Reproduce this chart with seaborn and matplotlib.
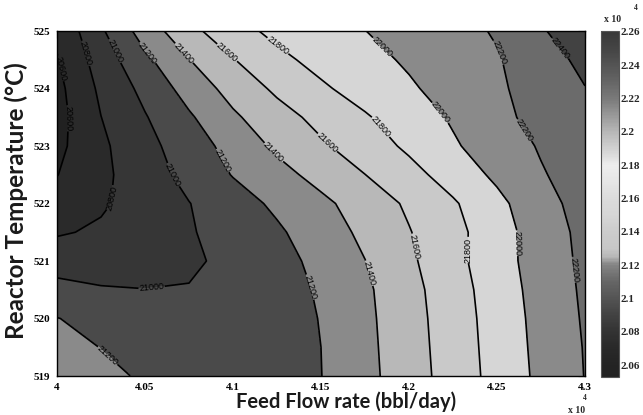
import numpy as np
import seaborn as sns
import matplotlib
matplotlib.use("Agg")
import matplotlib.pyplot as plt
from matplotlib.colors import LinearSegmentedColormap, Normalize
from matplotlib.cm import ScalarMappable
from matplotlib.ticker import FuncFormatter

# ---------------- data ----------------
# Feed flow rate in units of 10^4 bbl/day
feed_flow = [4.0, 4.025, 4.05, 4.075, 4.1, 4.125, 4.15, 4.175, 4.2, 4.225, 4.25, 4.275, 4.3]
# Reactor temperature (deg C)
temperature = [519, 519.5, 520, 520.5, 521, 521.5, 522, 522.5, 523, 523.5, 524, 524.5, 525]

# response values, one row per temperature (bottom to top), one column per feed flow
z_519_0 = [21370, 21260, 21170, 21110, 21105, 21140, 21197, 21343, 21508, 21686, 21867, 22045, 22205]
z_519_5 = [21290, 21195, 21130, 21090, 21100, 21140, 21200, 21349, 21516, 21694, 21875, 22054, 22210]
z_520_0 = [21205, 21140, 21090, 21080, 21100, 21140, 21205, 21356, 21524, 21702, 21883, 22063, 22220]
z_520_5 = [21060, 21015, 21003, 21012, 21068, 21138, 21217, 21366, 21536, 21714, 21896, 22076, 22230]
z_521_0 = [20915, 20910, 20920, 20960, 21061, 21143, 21245, 21397, 21565, 21740, 21916, 22092, 22240]
z_521_5 = [20780, 20828, 20906, 20984, 21076, 21172, 21300, 21443, 21590, 21741, 21912, 22102, 22250]
z_522_0 = [20683, 20775, 20884, 20995, 21117, 21236, 21356, 21489, 21630, 21777, 21948, 22135, 22270]
z_522_5 = [20595, 20756, 20908, 21059, 21209, 21334, 21465, 21598, 21735, 21884, 22039, 22184, 22290]
z_523_0 = [20550, 20763, 20940, 21102, 21269, 21437, 21572, 21703, 21835, 21977, 22099, 22217, 22320]
z_523_5 = [20530, 20798, 20987, 21174, 21369, 21523, 21658, 21781, 21901, 22022, 22144, 22269, 22355]
z_524_0 = [20545, 20838, 21054, 21279, 21472, 21637, 21772, 21878, 21976, 22073, 22171, 22281, 22395]
z_524_5 = [20590, 20891, 21156, 21395, 21591, 21753, 21859, 21943, 22025, 22105, 22185, 22311, 22450]
z_525_0 = [20630, 20971, 21291, 21541, 21732, 21847, 21923, 21998, 22069, 22139, 22217, 22369, 22600]

contour_levels = [20600, 20800, 21000, 21200, 21400, 21600, 21800, 22000, 22200, 22400]
x_ticks = [4.0, 4.05, 4.1, 4.15, 4.2, 4.25, 4.3]
y_ticks = [519, 520, 521, 522, 523, 524, 525]
cbar_ticks = [2.06, 2.08, 2.10, 2.12, 2.14, 2.16, 2.18, 2.20, 2.22, 2.24, 2.26]
cbar_min, cbar_max = 2.0528, 2.2606   # colour limits (x 10^4)

# ---------------- styling ----------------
sns.set_theme(style="white")
plt.rcParams["font.family"] = ["Liberation Serif", "DejaVu Serif"]

# grey levels of the filled bands (grayscale rendering of a jet map)
band_greys = [0.13, 0.165, 0.21, 0.29, 0.54, 0.72, 0.79, 0.84, 0.54, 0.42, 0.26]
band_colors = [(g, g, g) for g in band_greys]
# continuous colourbar gradient
cbar_anchor_vals = [2.0528, 2.06, 2.07, 2.08, 2.09, 2.10, 2.11, 2.12, 2.125, 2.13, 2.14, 2.15,
                    2.16, 2.17, 2.18, 2.19, 2.20, 2.21, 2.22, 2.23, 2.24, 2.25, 2.2606]
cbar_anchor_grey = [0.13, 0.14, 0.16, 0.20, 0.26, 0.33, 0.40, 0.52, 0.72, 0.78, 0.80, 0.84,
                    0.86, 0.90, 0.93, 0.82, 0.72, 0.60, 0.48, 0.40, 0.33, 0.27, 0.22]
cmap = LinearSegmentedColormap.from_list(
    "jetgrey",
    [((v - cbar_min) / (cbar_max - cbar_min), (g, g, g)) for v, g in zip(cbar_anchor_vals, cbar_anchor_grey)],
)

W, H = 643, 415
fig = plt.figure(figsize=(W / 100, H / 100), dpi=100)
fig.patch.set_facecolor("white")
ax = fig.add_axes([57 / W, 1 - 376 / H, (585 - 57) / W, (376 - 31) / H])
cax = fig.add_axes([601 / W, 1 - 377 / H, 18 / W, 346 / H])

Z = np.array([z_519_0, z_519_5, z_520_0, z_520_5, z_521_0, z_521_5, z_522_0,
              z_522_5, z_523_0, z_523_5, z_524_0, z_524_5, z_525_0], dtype=float)
XX, YY = np.meshgrid(feed_flow, temperature)

fill_levels = [20500] + contour_levels + [22700]
ax.contourf(XX, YY, Z, levels=fill_levels, colors=band_colors)
cl = ax.contour(XX, YY, Z, levels=contour_levels, colors="black", linewidths=1.2)

# label positions (pixel positions, converted to data)
label_px = [(62, 118), (62, 68),
            (87, 53), (110, 198),
            (115, 51), (168, 178), (152, 291),
            (145, 55), (218, 163), (316, 285), (110, 353),
            (182, 55), (273, 153), (370, 273),
            (225, 55), (327, 143), (422, 245),
            (277, 47), (383, 125), (469, 250),
            (387, 42), (440, 113), (517, 243),
            (505, 50), (520, 133), (572, 270),
            (558, 50)]
label_pos = [(4 + (px - 57) / 1760, 525 - (py - 31) / 57.5) for px, py in label_px]
ax.clabel(cl, fmt="%d", fontsize=6.5, inline=True, inline_spacing=2,
          manual=label_pos)
for t in cl.labelTexts:
    t.set_family(["Liberation Sans", "DejaVu Sans"])

ax.set_xlim(4.0, 4.3)
ax.set_ylim(519, 525)
ax.set_xticks(x_ticks)
ax.set_yticks(y_ticks)
ax.xaxis.set_major_formatter(FuncFormatter(lambda v, p: "%g" % round(v, 3)))
ax.yaxis.set_major_formatter(FuncFormatter(lambda v, p: "%g" % v))
ax.tick_params(direction="in", length=5, width=0.8, top=True, right=True,
               labelsize=8, pad=5, colors="black")
for lab in ax.get_xticklabels() + ax.get_yticklabels():
    lab.set_fontweight("bold")
for s in ax.spines.values():
    s.set_color("black")
    s.set_linewidth(1.0)

# colourbar
sm = ScalarMappable(norm=Normalize(cbar_min, cbar_max), cmap=cmap)
cb = fig.colorbar(sm, cax=cax)
cb.set_ticks(cbar_ticks)
cb.ax.yaxis.set_major_formatter(FuncFormatter(lambda v, p: "%g" % round(v, 3)))
cax.tick_params(direction="in", length=3, width=0.6, left=True, right=True,
                labelsize=8, pad=1)
for lab in cax.get_yticklabels():
    lab.set_fontweight("bold")
cb.outline.set_linewidth(0.8)
cb.outline.set_edgecolor("#555555")

# x 10^4 multipliers
fig.text(577 / W, 1 - 410 / H, "x 10", fontsize=7, fontweight="bold", ha="center", va="center")
fig.text(585 / W, 1 - 398 / H, "4", fontsize=5.5, fontweight="bold", ha="center", va="center")
fig.text(613 / W, 1 - 20 / H, "x 10", fontsize=7, fontweight="bold", ha="center", va="center")
fig.text(636 / W, 1 - 8 / H, "4", fontsize=5.5, fontweight="bold", ha="center", va="center")

# axis titles
fig.text(346 / W, 1 - 402 / H, "Feed Flow rate (bbl/day)", fontsize=14.5, fontweight="bold",
         family=["Lato", "DejaVu Sans"], color="#1a1a1a", ha="center", va="center")
fig.text(16 / W, 1 - 201 / H, "Reactor Temperature (\u00b0C)", fontsize=17.5, fontweight="bold",
         family=["Lato", "DejaVu Sans"], color="#1a1a1a", ha="center", va="center", rotation=90)

fig.savefig("out.png", dpi=100, facecolor="white")
